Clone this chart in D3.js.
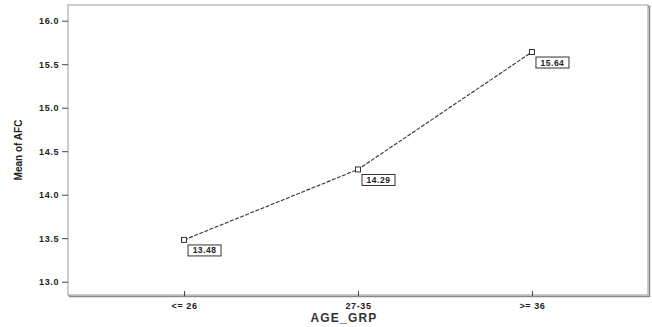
<!DOCTYPE html>
<html>
<head>
<meta charset="utf-8">
<script src="https://cdn.jsdelivr.net/npm/d3@7"></script>
<style>
  body { margin: 0; background: #fff; }
  svg { display: block; font-family: "Liberation Sans", Arial, sans-serif; }
</style>
</head>
<body>
<svg id="chart" width="652" height="327"></svg>
<script>
/** Data **/
var categories = ["<= 26", "27-35", ">= 36"];
var meanAFC = [13.48, 14.29, 15.64];
var yTicks = [13.0, 13.5, 14.0, 14.5, 15.0, 15.5, 16.0];

var svg = d3.select("#chart");

/** Plot frame **/
var frame = {left: 68, top: 5, right: 648, bottom: 295};

var xScale = d3.scalePoint()
    .domain(categories)
    .range([frame.left, frame.right])
    .padding(0.667);
var yScale = d3.scaleLinear()
    .domain([13, 16])
    .range([281.7, 20.7]);

/** Frame with a darker right/bottom edge **/
svg.append("rect")
    .attr("x", frame.left + 1.5).attr("y", frame.top + 1.5)
    .attr("width", frame.right - frame.left).attr("height", frame.bottom - frame.top)
    .attr("fill", "none").attr("stroke", "#8a8a8a").attr("stroke-width", 1.5);
svg.append("rect")
    .attr("x", frame.left).attr("y", frame.top)
    .attr("width", frame.right - frame.left).attr("height", frame.bottom - frame.top)
    .attr("fill", "#fff").attr("stroke", "#9a9a9a").attr("stroke-width", 1);

/** Axes **/
var yAxis = d3.axisLeft(yScale)
    .tickValues(yTicks)
    .tickSize(6)
    .tickPadding(3)
    .tickFormat(d3.format(".1f"));
var gy = svg.append("g")
    .attr("transform", "translate(" + frame.left + ",0)")
    .call(yAxis);
gy.select(".domain").remove();
gy.selectAll("line").attr("stroke", "#444");
gy.selectAll("text")
    .style("font-size", "9px")
    .style("font-weight", "bold")
    .style("letter-spacing", "0.6px")
    .attr("fill", "#222");

var xAxis = d3.axisBottom(xScale)
    .tickSize(5)
    .tickPadding(2);
var gx = svg.append("g")
    .attr("transform", "translate(0," + (frame.bottom + 1) + ")")
    .call(xAxis);
gx.select(".domain").remove();
gx.selectAll("line").attr("stroke", "#444").attr("transform", "translate(0,-5)");
gx.selectAll("text")
    .style("font-size", "9px")
    .style("font-weight", "bold")
    .style("letter-spacing", "0.6px")
    .attr("fill", "#222");

/** Axis titles **/
svg.append("text")
    .text("AGE_GRP")
    .attr("x", 344).attr("y", 322)
    .style("text-anchor", "middle")
    .style("font-size", "12px")
    .style("font-weight", "bold")
    .style("letter-spacing", "1.2px")
    .attr("fill", "#333");
svg.append("text")
    .text("Mean of AFC")
    .attr("transform", "translate(22,150) rotate(-90)")
    .style("text-anchor", "middle")
    .style("font-size", "10px")
    .style("font-weight", "bold")
    .attr("fill", "#222");

/** Line and markers **/
var points = categories.map(function (c, i) { return {cat: c, value: meanAFC[i]}; });
var valueLine = d3.line()
    .x(function (d) { return xScale(d.cat); })
    .y(function (d) { return yScale(d.value); });
svg.append("path")
    .datum(points)
    .attr("fill", "none")
    .attr("stroke", "#333")
    .attr("stroke-width", 1.1)
    .attr("stroke-dasharray", "4,1.5")
    .attr("d", valueLine);
svg.selectAll(".marker")
    .data(points)
    .enter().append("rect")
    .attr("class", "marker")
    .attr("x", function (d) { return xScale(d.cat) - 2.5; })
    .attr("y", function (d) { return yScale(d.value) - 2.5; })
    .attr("width", 5).attr("height", 5)
    .attr("fill", "#fff").attr("stroke", "#333").attr("stroke-width", 1);

/** Value labels **/
var labels = svg.selectAll(".vlabel")
    .data(points)
    .enter().append("g")
    .attr("class", "vlabel")
    .attr("transform", function (d) {
        return "translate(" + (xScale(d.cat) + 4) + "," + (yScale(d.value) + 5) + ")";
    });
labels.append("rect")
    .attr("width", 33).attr("height", 11)
    .attr("fill", "#fff").attr("stroke", "#333").attr("stroke-width", 1);
labels.append("text")
    .text(function (d) { return d.value.toFixed(2); })
    .attr("x", 16.5).attr("y", 8.5)
    .style("text-anchor", "middle")
    .style("font-size", "8.5px")
    .style("font-weight", "bold")
    .style("letter-spacing", "0.5px")
    .attr("fill", "#222");
</script>
</body>
</html>
